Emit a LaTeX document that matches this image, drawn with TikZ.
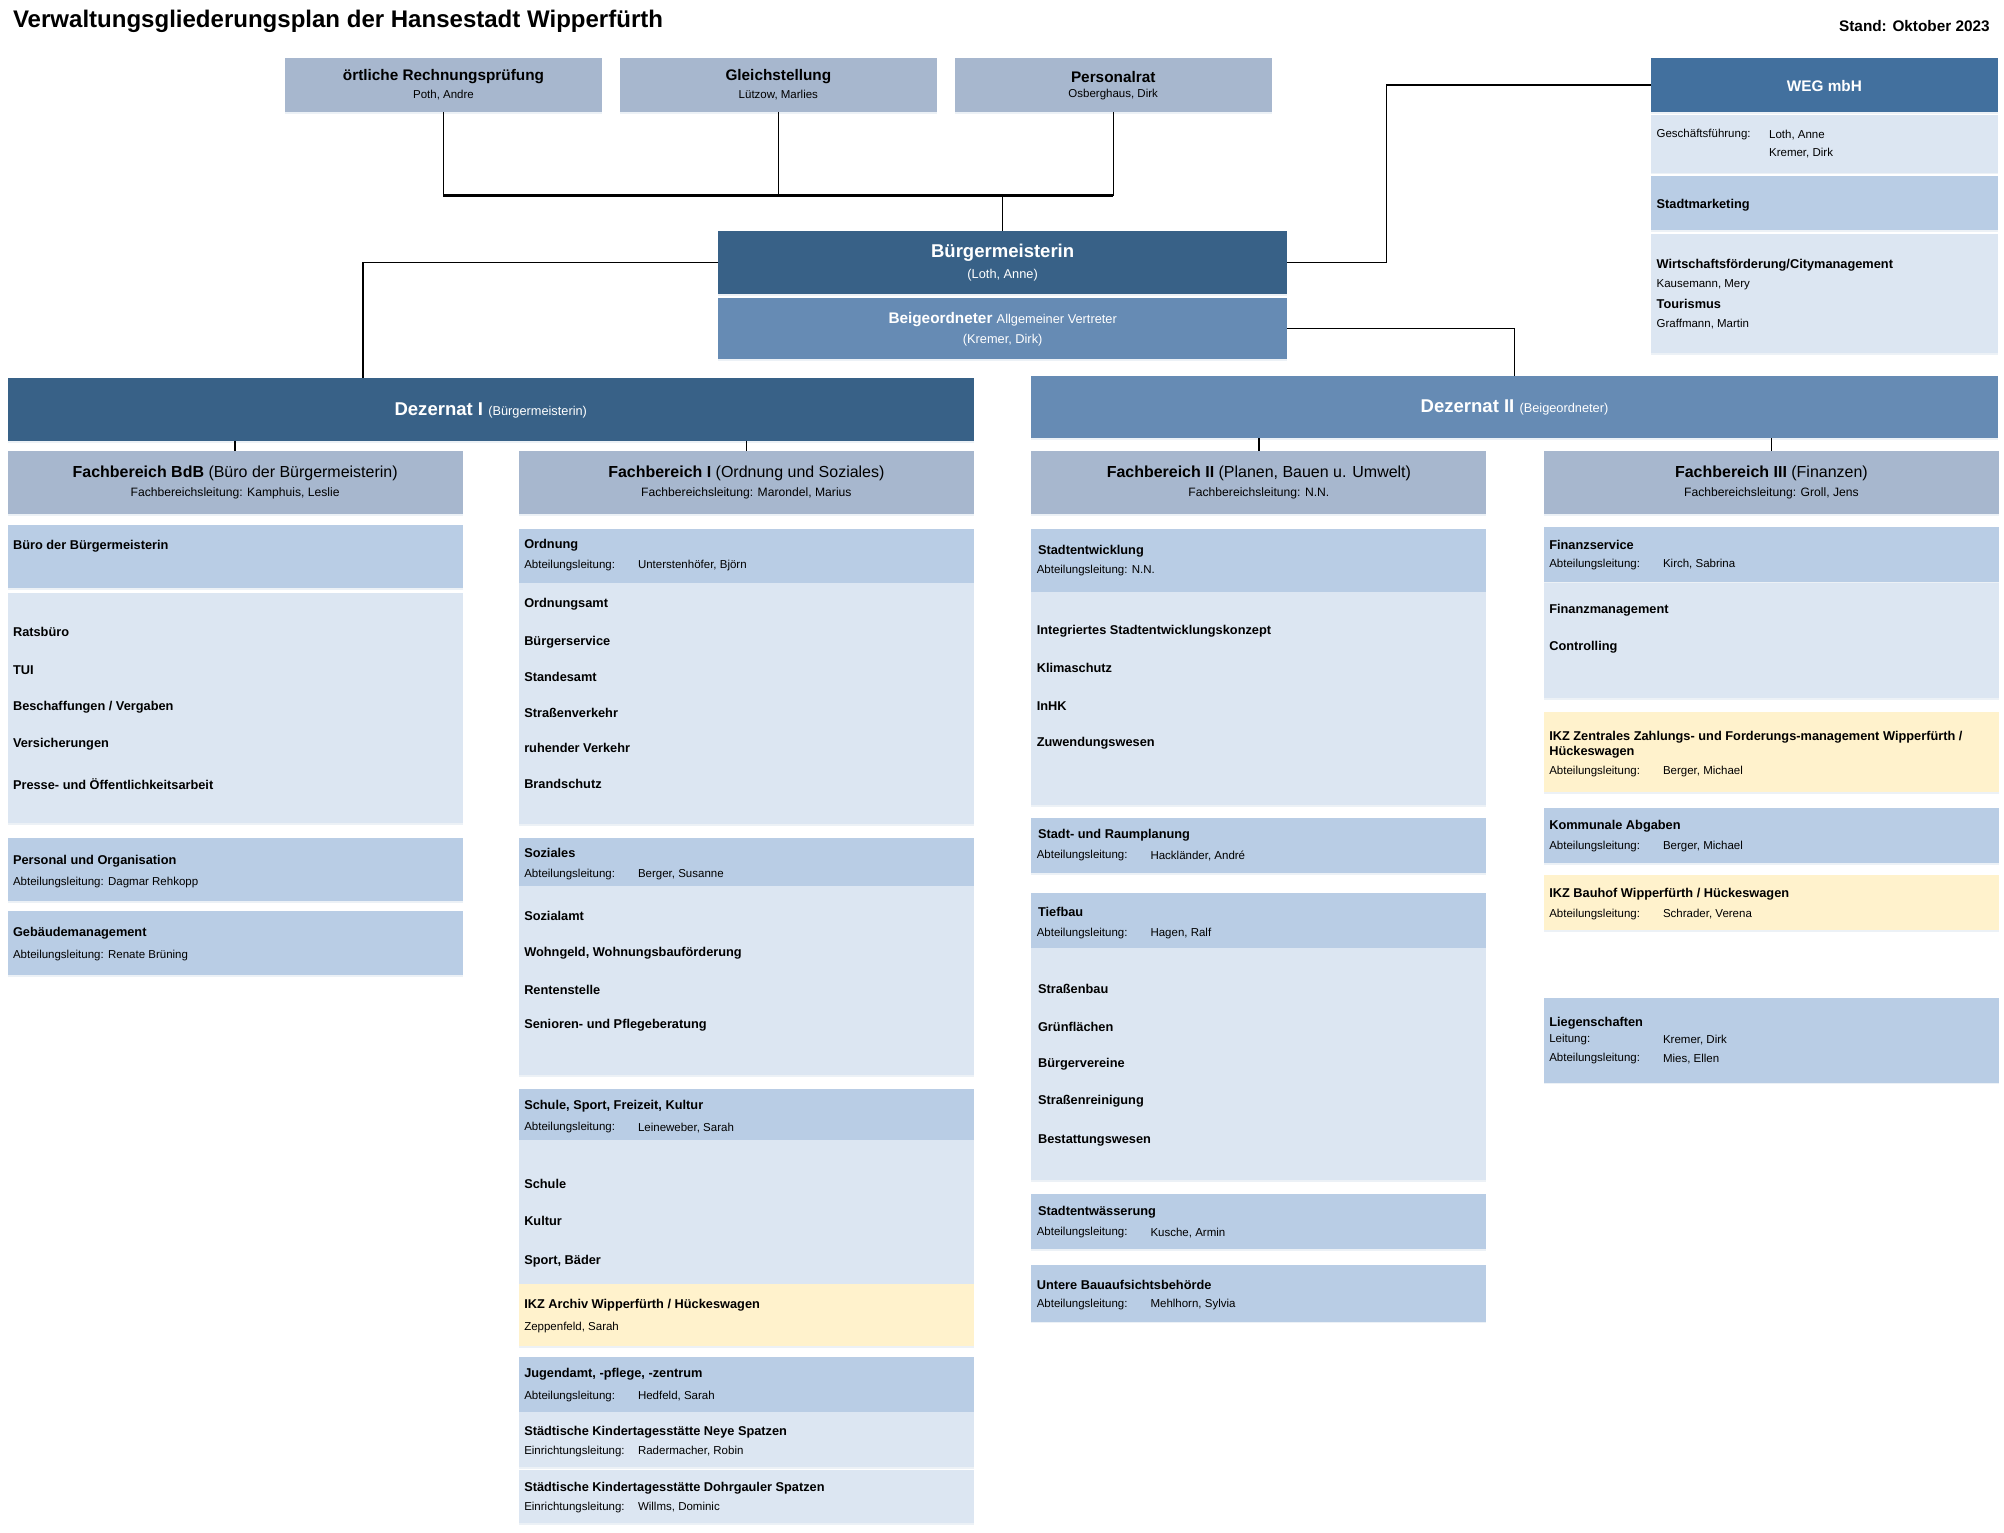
\documentclass[tikz,border=0pt]{standalone}
\usepackage{fontspec}
\setmainfont{Liberation Sans}
\usetikzlibrary{shadows}

\definecolor{cDark}{RGB}{56,97,135}
\definecolor{cWeg}{RGB}{66,112,158}
\definecolor{cMid}{RGB}{102,139,180}
\definecolor{cGray}{RGB}{167,183,206}
\definecolor{cMed}{RGB}{185,205,229}
\definecolor{cLight}{RGB}{220,230,242}
\definecolor{cYel}{RGB}{255,242,204}

\tikzset{
  box/.style={anchor=north west, inner sep=0pt, outer sep=0pt,
    drop shadow={shadow xshift=0pt, shadow yshift=-1.5pt, fill=cMid, opacity=0.12}},
  col/.style={box, minimum width=356pt},
  link/.style={draw=black, line width=1.1pt},
  bar/.style={draw=black, line width=2pt},
  ttl/.style={anchor=west, inner sep=0pt, yshift=-1pt, font=\bfseries\fontsize{18.8}{21}\selectfont},
  hd/.style={inner sep=0pt, yshift=-1pt, font=\bfseries\fontsize{12}{14}\selectfont},
  hdsub/.style={inner sep=0pt, yshift=-1pt, font=\fontsize{9}{11}\selectfont},
  wh/.style={text=white},
  itm/.style={anchor=west, inner sep=0pt, yshift=-1.5pt, font=\bfseries\fontsize{10}{12}\selectfont},
  sml/.style={anchor=west, inner sep=0pt, yshift=-1.5pt, font=\fontsize{9}{11}\selectfont},
}

\begin{document}
\begin{tikzpicture}[x=1pt, y=-1pt]
\useasboundingbox (0,0) rectangle (1568,1199);

\node[ttl] (title) at (10,16) {Verwaltungsgliederungsplan der Hansestadt Wipperfürth};
\node[ttl, anchor=east, font=\bfseries\fontsize{12}{14}\selectfont] (stand) at (1557,19) {Stand: Oktober 2023};

% top row
\node[box, fill=cGray, minimum width=248pt, minimum height=43pt] (rpruef) at (223,45) {};
\node[box, fill=cGray, minimum width=248pt, minimum height=43pt] (gleich) at (485,45) {};
\node[box, fill=cGray, minimum width=248pt, minimum height=43pt] (pers) at (747,45) {};
\node[hd] (rpruefT) at (347,59) {örtliche Rechnungsprüfung};
\node[hdsub] (rpruefS) at (347,73) {Poth, Andre};
\node[hd] (gleichT) at (609,59) {Gleichstellung};
\node[hdsub] (gleichS) at (609,73) {Lützow, Marlies};
\node[hd] (persT) at (871,59) {Personalrat};
\node[hdsub] (persS) at (871,73) {Osberghaus, Dirk};

% Verwaltungsspitze
\node[box, fill=cDark, minimum width=445pt, minimum height=49pt] (bm) at (562,181) {};
\node[hd, wh, font=\bfseries\fontsize{14.5}{16}\selectfont] (bmT) at (784.5,197) {Bürgermeisterin};
\node[hdsub, wh, font=\fontsize{10}{12}\selectfont] (bmS) at (784.5,214) {(Loth, Anne)};
\node[box, fill=cMid, minimum width=445pt, minimum height=48pt] (beig) at (562,233) {};
\node[hd, wh] (beigT) at (784.5,249) {Beigeordneter {\mdseries\fontsize{10}{12}\selectfont Allgemeiner Vertreter}};
\node[hdsub, wh, font=\fontsize{10}{12}\selectfont] (beigS) at (784.5,265) {(Kremer, Dirk)};

% WEG
\node[box, fill=cWeg, minimum width=271pt, minimum height=43pt] (weg) at (1292,45) {};
\node[hd, wh] (wegT) at (1427.5,66) {WEG mbH};
\node[box, fill=cLight, minimum width=271pt, minimum height=45pt] (wegGf) at (1292,90) {};
\node[sml] (gfL) at (1296,104) {Geschäftsführung:};
\node[sml] (gfA) at (1384,104) {Loth, Anne};
\node[sml] (gfB) at (1384,118) {Kremer, Dirk};
\node[box, fill=cMed, minimum width=271pt, minimum height=42pt] (wegSm) at (1292,138) {};
\node[itm] (smT) at (1296,159) {Stadtmarketing};
\node[box, fill=cLight, minimum width=271pt, minimum height=93pt] (wegWf) at (1292,183) {};
\node[itm] (wfT) at (1296,206) {Wirtschaftsförderung/Citymanagement};
\node[sml] (wfS) at (1296,221) {Kausemann, Mery};
\node[itm] (tourT) at (1296,236) {Tourismus};
\node[sml] (tourS) at (1296,252) {Graffmann, Martin};

% Dezernate
\node[box, fill=cDark, minimum width=756pt, minimum height=49pt] (dez1) at (6,296) {};
\node[hd, wh, font=\bfseries\fontsize{14.5}{16}\selectfont] (dez1T) at (384,320) {Dezernat I {\mdseries\fontsize{10}{12}\selectfont (Bürgermeisterin)}};
\node[box, fill=cMid, minimum width=756pt, minimum height=49pt] (dez2) at (807,294) {};
\node[hd, wh, font=\bfseries\fontsize{14.5}{16}\selectfont] (dez2T) at (1185,318) {Dezernat II {\mdseries\fontsize{10}{12}\selectfont (Beigeordneter)}};

% Fachbereiche
\node[col, fill=cGray, minimum height=49pt] (fb1) at (6,353) {};
\node[hd, font=\fontsize{12.5}{14}\selectfont] (fb1T) at (184,369) {\textbf{Fachbereich BdB} (Büro der Bürgermeisterin)};
\node[hdsub, font=\fontsize{9.5}{11}\selectfont] (fb1S) at (184,385) {Fachbereichsleitung: Kamphuis, Leslie};
\node[col, fill=cGray, minimum height=49pt] (fb2) at (406,353) {};
\node[hd, font=\fontsize{12.5}{14}\selectfont] (fb2T) at (584,369) {\textbf{Fachbereich I} (Ordnung und Soziales)};
\node[hdsub, font=\fontsize{9.5}{11}\selectfont] (fb2S) at (584,385) {Fachbereichsleitung: Marondel, Marius};
\node[col, fill=cGray, minimum height=49pt] (fb3) at (807,353) {};
\node[hd, font=\fontsize{12.5}{14}\selectfont] (fb3T) at (985,369) {\textbf{Fachbereich II} (Planen, Bauen u. Umwelt)};
\node[hdsub, font=\fontsize{9.5}{11}\selectfont] (fb3S) at (985,385) {Fachbereichsleitung: N.N.};
\node[col, fill=cGray, minimum height=49pt] (fb4) at (1208,353) {};
\node[hd, font=\fontsize{12.5}{14}\selectfont] (fb4T) at (1386,369) {\textbf{Fachbereich III} (Finanzen)};
\node[hdsub, font=\fontsize{9.5}{11}\selectfont] (fb4S) at (1386,385) {Fachbereichsleitung: Groll, Jens};

% Fachbereich BdB
\node[col, fill=cMed, minimum height=49pt] (c1buero) at (6,411) {};
\node[itm] (c1bueroT) at (10,426) {Büro der Bürgermeisterin};
\node[col, fill=cLight, minimum height=180pt] (c1rat) at (6,464) {};
\node[itm] (c1a) at (10,493) {Ratsbüro};
\node[itm] (c1b) at (10,523) {TUI};
\node[itm] (c1c) at (10,552) {Beschaffungen / Vergaben};
\node[itm] (c1d) at (10,581) {Versicherungen};
\node[itm] (c1e) at (10,612) {Presse- und Öffentlichkeitsarbeit};
\node[col, fill=cMed, minimum height=49pt] (c1pers) at (6,656) {};
\node[itm] (c1persT) at (10,672) {Personal und Organisation};
\node[sml] (c1persS) at (10,689) {Abteilungsleitung: Dagmar Rehkopp};
\node[col, fill=cMed, minimum height=50pt] (c1geb) at (6,713) {};
\node[itm] (c1gebT) at (10,729) {Gebäudemanagement};
\node[sml] (c1gebS) at (10,746) {Abteilungsleitung: Renate Brüning};

% Fachbereich I
\node[col, fill=cMed, minimum height=42pt] (c2ord) at (406,414) {};
\node[itm] (c2ordT) at (410,425) {Ordnung};
\node[sml] (c2ordL) at (410,441) {Abteilungsleitung:};
\node[sml] (c2ordN) at (499,441) {Unterstenhöfer, Björn};
\node[col, fill=cLight, minimum height=189pt] (c2ordB) at (406,456) {};
\node[itm] (c2a) at (410,471) {Ordnungsamt};
\node[itm] (c2b) at (410,501) {Bürgerservice};
\node[itm] (c2c) at (410,528) {Standesamt};
\node[itm] (c2d) at (410,556) {Straßenverkehr};
\node[itm] (c2e) at (410,584) {ruhender Verkehr};
\node[itm] (c2f) at (410,612) {Brandschutz};
\node[col, fill=cMed, minimum height=37pt] (c2soz) at (406,656) {};
\node[itm] (c2sozT) at (410,666) {Soziales};
\node[sml] (c2sozL) at (410,683) {Abteilungsleitung:};
\node[sml] (c2sozN) at (499,683) {Berger, Susanne};
\node[col, fill=cLight, minimum height=148pt] (c2sozB) at (406,693) {};
\node[itm] (c2g) at (410,715) {Sozialamt};
\node[itm] (c2h) at (410,744) {Wohngeld, Wohnungsbauförderung};
\node[itm] (c2i) at (410,773) {Rentenstelle};
\node[itm] (c2j) at (410,801) {Senioren- und Pflegeberatung};
\node[col, fill=cMed, minimum height=40pt] (c2sch) at (406,852) {};
\node[itm] (c2schT) at (410,864) {Schule, Sport, Freizeit, Kultur};
\node[sml] (c2schL) at (410,881) {Abteilungsleitung:};
\node[sml] (c2schN) at (499,881) {Leineweber, Sarah};
\node[col, fill=cLight, minimum height=113pt] (c2schB) at (406,892) {};
\node[itm] (c2k) at (410,925) {Schule};
\node[itm] (c2l) at (410,954) {Kultur};
\node[itm] (c2m) at (410,985) {Sport, Bäder};
\node[col, fill=cYel, minimum height=48pt] (c2ikz) at (406,1005) {};
\node[itm] (c2ikzT) at (410,1020) {IKZ Archiv Wipperfürth / Hückeswagen};
\node[sml] (c2ikzS) at (410,1037) {Zeppenfeld, Sarah};
\node[col, fill=cMed, minimum height=43pt] (c2jug) at (406,1062) {};
\node[itm] (c2jugT) at (410,1074) {Jugendamt, -pflege, -zentrum};
\node[sml] (c2jugL) at (410,1091) {Abteilungsleitung:};
\node[sml] (c2jugN) at (499,1091) {Hedfeld, Sarah};
\node[col, fill=cLight, minimum height=43pt] (c2kitaA) at (406,1105) {};
\node[itm] (c2kitaAT) at (410,1119) {Städtische Kindertagesstätte Neye Spatzen};
\node[sml] (c2kitaAL) at (410,1134) {Einrichtungsleitung:};
\node[sml] (c2kitaAN) at (499,1134) {Radermacher, Robin};
\node[col, fill=cLight, minimum height=42pt] (c2kitaB) at (406,1150) {};
\node[itm] (c2kitaBT) at (410,1163) {Städtische Kindertagesstätte Dohrgauler Spatzen};
\node[sml] (c2kitaBL) at (410,1178) {Einrichtungsleitung:};
\node[sml] (c2kitaBN) at (499,1178) {Willms, Dominic};

% Fachbereich II
\node[col, fill=cMed, minimum height=49pt] (c3ste) at (807,414) {};
\node[itm] (c3steT) at (812,430) {Stadtentwicklung};
\node[sml] (c3steS) at (811,445) {Abteilungsleitung: N.N.};
\node[col, fill=cLight, minimum height=167pt] (c3steB) at (807,463) {};
\node[itm] (c3a) at (811,492) {Integriertes Stadtentwicklungskonzept};
\node[itm] (c3b) at (811,521) {Klimaschutz};
\node[itm] (c3c) at (811,551) {InHK};
\node[itm] (c3d) at (811,580) {Zuwendungswesen};
\node[col, fill=cMed, minimum height=43pt] (c3rp) at (807,640) {};
\node[itm] (c3rpT) at (812,652) {Stadt- und Raumplanung};
\node[sml] (c3rpL) at (811,668) {Abteilungsleitung:};
\node[sml] (c3rpN) at (900,668) {Hackländer, André};
\node[col, fill=cMed, minimum height=43pt] (c3tb) at (807,699) {};
\node[itm] (c3tbT) at (812,712) {Tiefbau};
\node[sml] (c3tbL) at (811,729) {Abteilungsleitung:};
\node[sml] (c3tbN) at (900,729) {Hagen, Ralf};
\node[col, fill=cLight, minimum height=181pt] (c3tbB) at (807,742) {};
\node[itm] (c3e) at (812,772) {Straßenbau};
\node[itm] (c3f) at (812,802) {Grünflächen};
\node[itm] (c3g) at (812,831) {Bürgervereine};
\node[itm] (c3h) at (812,860) {Straßenreinigung};
\node[itm] (c3i) at (812,891) {Bestattungswesen};
\node[col, fill=cMed, minimum height=43pt] (c3sew) at (807,934) {};
\node[itm] (c3sewT) at (812,947) {Stadtentwässerung};
\node[sml] (c3sewL) at (811,963) {Abteilungsleitung:};
\node[sml] (c3sewN) at (900,963) {Kusche, Armin};
\node[col, fill=cMed, minimum height=44pt] (c3uba) at (807,990) {};
\node[itm] (c3ubaT) at (811,1004) {Untere Bauaufsichtsbehörde};
\node[sml] (c3ubaL) at (811,1019) {Abteilungsleitung:};
\node[sml] (c3ubaN) at (900,1019) {Mehlhorn, Sylvia};

% Fachbereich III
\node[col, fill=cMed, minimum height=43pt] (c4fs) at (1208,412) {};
\node[itm] (c4fsT) at (1212,425) {Finanzservice};
\node[sml] (c4fsL) at (1212,440) {Abteilungsleitung:};
\node[sml] (c4fsN) at (1301,440) {Kirch, Sabrina};
\node[col, fill=cLight, minimum height=90pt] (c4fsB) at (1208,456) {};
\node[itm] (c4a) at (1212,476) {Finanzmanagement};
\node[itm] (c4b) at (1212,505) {Controlling};
\node[col, fill=cYel, minimum height=63pt] (c4zfm) at (1208,557) {};
\node[itm, align=left] (c4zfmT) at (1212,581) {IKZ Zentrales Zahlungs- und Forderungs-management Wipperfürth /\\Hückeswagen};
\node[sml] (c4zfmL) at (1212,602) {Abteilungsleitung:};
\node[sml] (c4zfmN) at (1301,602) {Berger, Michael};
\node[col, fill=cMed, minimum height=43pt] (c4ka) at (1208,632) {};
\node[itm] (c4kaT) at (1212,645) {Kommunale Abgaben};
\node[sml] (c4kaL) at (1212,661) {Abteilungsleitung:};
\node[sml] (c4kaN) at (1301,661) {Berger, Michael};
\node[col, fill=cYel, minimum height=43pt] (c4bh) at (1208,685) {};
\node[itm] (c4bhT) at (1212,698) {IKZ Bauhof Wipperfürth / Hückeswagen};
\node[sml] (c4bhL) at (1212,714) {Abteilungsleitung:};
\node[sml] (c4bhN) at (1301,714) {Schrader, Verena};
\node[col, fill=cMed, minimum height=66pt] (c4lg) at (1208,781) {};
\node[itm] (c4lgT) at (1212,799) {Liegenschaften};
\node[sml] (c4lgL) at (1212,812) {Leitung:};
\node[sml] (c4lgN) at (1301,812) {Kremer, Dirk};
\node[sml] (c4lgL2) at (1212,827) {Abteilungsleitung:};
\node[sml] (c4lgN2) at (1301,827) {Mies, Ellen};

% connectors
\coordinate (topbar) at (bm.north |- 0,153);
\coordinate (d1in) at (284,296);
\coordinate (wegknee) at (1085,66.5);
\draw[link] (rpruef.south) -- (rpruef.south |- topbar);
\draw[link] (gleich.south) -- (gleich.south |- topbar);
\draw[link] (pers.south) -- (pers.south |- topbar);
\draw[bar] (rpruef.south |- topbar) -- (pers.south |- topbar);
\draw[link] (topbar) -- (bm.north);
\draw[link] (bm.west) -| (d1in);
\draw[link] (bm.east) -| (wegknee) -- (weg.west);
\draw[link] (beig.east) -| (dez2.north);
\draw[link] (dez1.south -| fb1.north) -- (fb1.north);
\draw[link] (dez1.south -| fb2.north) -- (fb2.north);
\draw[link] (dez2.south -| fb3.north) -- (fb3.north);
\draw[link] (dez2.south -| fb4.north) -- (fb4.north);

\end{tikzpicture}
\end{document}
